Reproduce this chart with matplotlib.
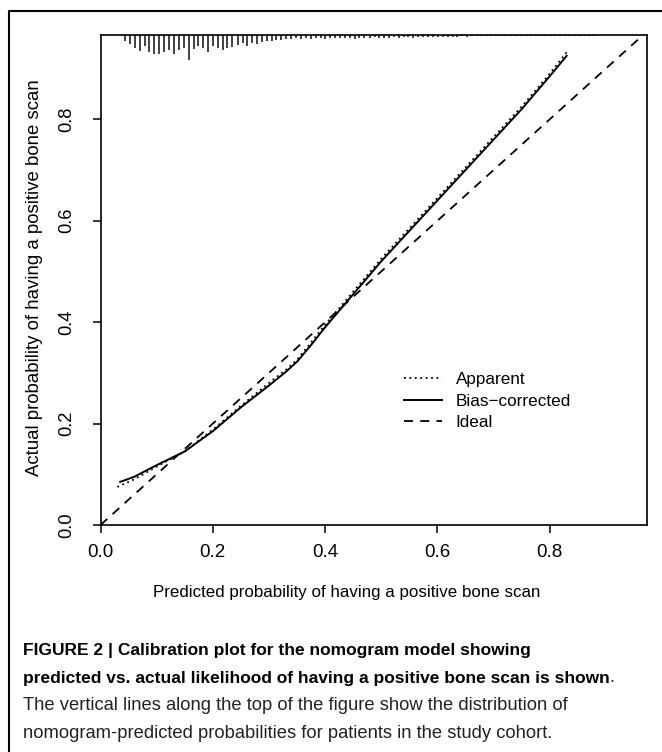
import matplotlib
matplotlib.use("Agg")
import matplotlib.pyplot as plt
from matplotlib.lines import Line2D
import numpy as np

plt.rcParams['font.family'] = ['Liberation Sans', 'DejaVu Sans']

# ---- data ----
pred_bias = [0.035, 0.06, 0.10, 0.15, 0.20, 0.25, 0.30, 0.33, 0.35, 0.375, 0.40, 0.45, 0.50,
             0.55, 0.60, 0.65, 0.70, 0.75, 0.80, 0.83]
actual_bias = [0.085, 0.095, 0.118, 0.145, 0.185, 0.232, 0.275, 0.302, 0.322, 0.355, 0.39, 0.455,
               0.52, 0.58, 0.64, 0.70, 0.76, 0.82, 0.885, 0.925]
pred_app = [0.03, 0.06, 0.10, 0.15, 0.20, 0.25, 0.30, 0.33, 0.35, 0.375, 0.40, 0.45, 0.50,
            0.55, 0.60, 0.65, 0.70, 0.75, 0.80, 0.83]
actual_app = [0.075, 0.09, 0.115, 0.145, 0.188, 0.235, 0.28, 0.306, 0.326, 0.36, 0.395, 0.46,
              0.525, 0.585, 0.645, 0.705, 0.765, 0.825, 0.89, 0.932]

rug_x = [0.035, 0.044, 0.052, 0.061, 0.070, 0.079, 0.087, 0.096, 0.105, 0.113,
         0.122, 0.131, 0.139, 0.148, 0.157, 0.166, 0.174, 0.183, 0.192, 0.200,
         0.209, 0.218, 0.226, 0.235, 0.244, 0.253, 0.261, 0.270, 0.279, 0.287,
         0.296, 0.305, 0.313, 0.322, 0.331, 0.340, 0.348, 0.357, 0.366, 0.374,
         0.383, 0.392, 0.400, 0.409, 0.418, 0.427, 0.435, 0.444, 0.453, 0.461,
         0.470, 0.479, 0.488, 0.496, 0.505, 0.514, 0.522, 0.531, 0.540, 0.548,
         0.557, 0.566, 0.575, 0.583, 0.592, 0.601, 0.609, 0.618, 0.627, 0.635,
         0.644, 0.653, 0.662, 0.670, 0.679, 0.688, 0.696, 0.705, 0.714, 0.722,
         0.731, 0.740, 0.749, 0.757, 0.766, 0.775, 0.783, 0.792, 0.801, 0.809,
         0.818, 0.827, 0.836, 0.844, 0.853, 0.862, 0.870, 0.879]
rug_freq = [1, 6, 9, 13, 16, 11, 17, 19, 19, 17,
            15, 19, 15, 13, 25, 14, 11, 13, 17, 11,
            13, 15, 13, 12, 10, 8, 11, 8, 9, 7,
            6, 6, 5, 5, 4, 4, 3, 4, 3, 4,
            3, 3, 4, 3, 3, 3, 3, 3, 4, 3,
            3, 3, 2, 3, 3, 3, 2, 3, 2, 2,
            3, 2, 2, 2, 2, 2, 2, 2, 2, 2,
            1, 2, 1, 1, 1, 1, 1, 1, 1, 1,
            1, 1, 1, 1, 1, 1, 1, 1, 1, 1,
            1, 1, 1, 1, 1, 1, 1, 1]

xticks = [0.0, 0.2, 0.4, 0.6, 0.8]
yticks = [0.0, 0.2, 0.4, 0.6, 0.8]
xlim = (0.0, 0.973)
ylim = (0.0, 0.966)

W, H = 662, 752
fig = plt.figure(figsize=(W / 100, H / 100), dpi=100)
ax = fig.add_axes([100.5 / W, 1 - 525 / H, (647 - 100.5) / W, (525 - 35) / H])
ax.set_xlim(*xlim)
ax.set_ylim(*ylim)

# rug (spike histogram) hanging from top
scale = 1.0 / 507.5
ax.vlines(rug_x, [ylim[1] - f * scale for f in rug_freq], ylim[1],
          color='#333333', lw=1.3)

ax.plot(pred_app, actual_app, color='black', lw=1.3, linestyle=(0, (1, 2)), label='Apparent')
ax.plot(pred_bias, actual_bias, color='black', lw=1.4, label='Bias\u2212corrected')
ax.plot([0, 1], [0, 1], color='black', lw=1.3, linestyle=(0, (5, 4)), label='Ideal')

ax.set_xticks(xticks)
ax.set_yticks(yticks)
ax.set_xticklabels([f'{t:.1f}' for t in xticks])
ax.set_yticklabels([f'{t:.1f}' for t in yticks], rotation=90, va='center')
ax.tick_params(direction='out', length=6, width=1.1, color='black')
ax.tick_params(axis='x', labelsize=13.5, pad=8)
ax.tick_params(axis='y', labelsize=13.2, pad=12)
for s in ax.spines.values():
    s.set_linewidth(1.2)

fig.text(347 / W, 1 - 593 / H, 'Predicted probability of having a positive bone scan',
         fontsize=12.2, ha='center', va='center')
fig.text(35 / W, 1 - 278 / H, 'Actual probability of having a positive bone scan',
         fontsize=13.4, ha='center', va='center', rotation=90)

leg = ax.legend(loc='upper left', bbox_to_anchor=(0.528, 0.343), frameon=False,
                fontsize=12.3, handlelength=2.2, handletextpad=0.8, labelspacing=0.38)

# outer figure frame (left and top)
fig.add_artist(Line2D([9 / W, 9 / W, 1.0], [0, 1 - 11 / H, 1 - 11 / H],
                      transform=fig.transFigure, color='black', lw=1.5))

cap_font = ['Liberation Sans Narrow', 'Liberation Sans', 'DejaVu Sans']
fsb = 12.5
fsr = 13.2
fig.text(23 / W, 1 - 650 / H, 'FIGURE 2 | Calibration plot for the nomogram model showing',
         fontsize=fsb, fontweight='bold', family=cap_font, va='center')
t2 = fig.text(23 / W, 1 - 678 / H,
              'predicted vs. actual likelihood of having a positive bone scan is shown',
              fontsize=fsb, fontweight='bold', family=cap_font, va='center')
fig.canvas.draw()
bb = t2.get_window_extent()
fig.text(bb.x1 / W, 1 - 678 / H, '.', fontsize=fsr, family=cap_font, va='center',
         color='#222222')
fig.text(23 / W, 1 - 706 / H,
         'The vertical lines along the top of the figure show the distribution of',
         fontsize=fsr, family=cap_font, va='center', color='#222222')
fig.text(23 / W, 1 - 733 / H,
         'nomogram-predicted probabilities for patients in the study cohort.',
         fontsize=fsr, family=cap_font, va='center', color='#222222')

fig.savefig('out.png', dpi=100)
